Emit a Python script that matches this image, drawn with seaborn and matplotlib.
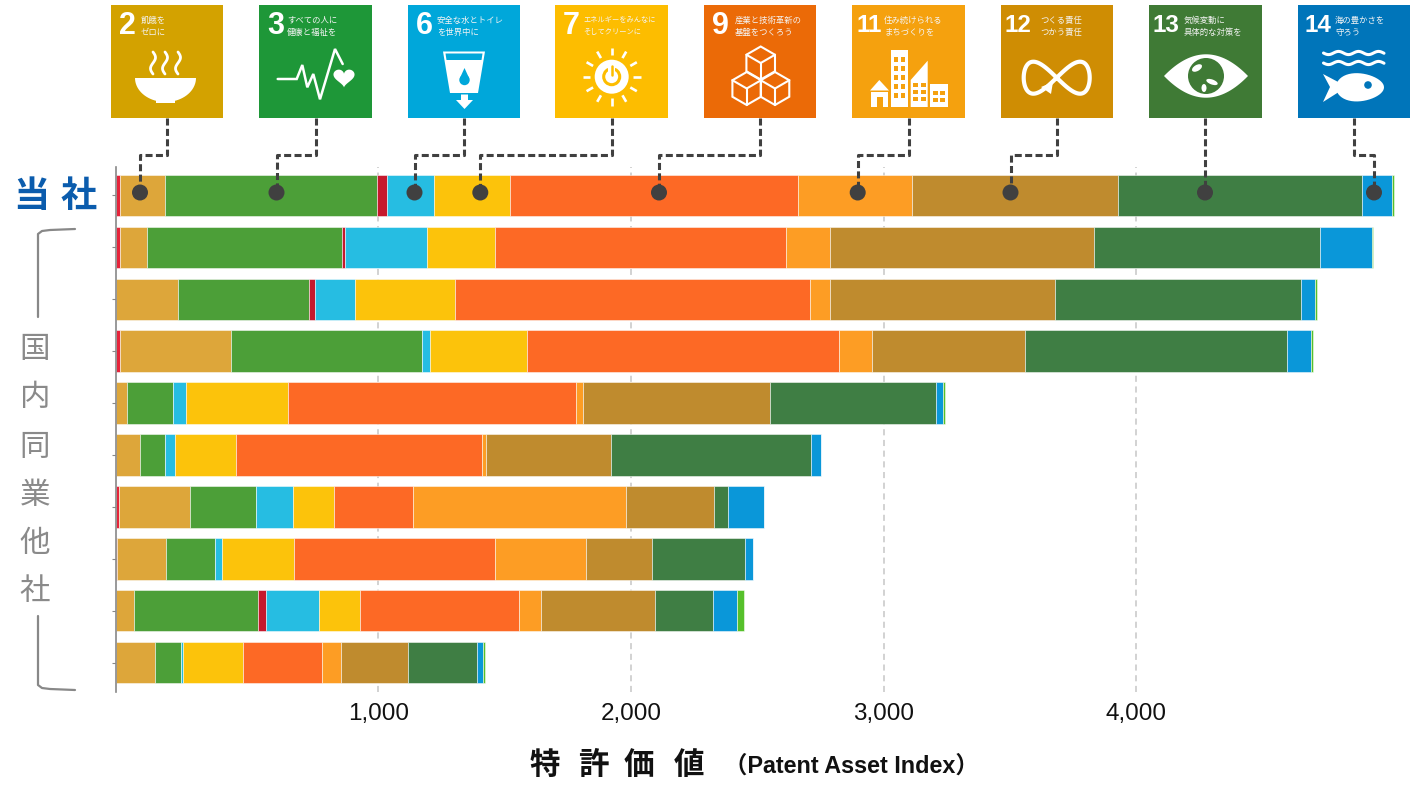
import numpy as np
import pandas as pd
import matplotlib
matplotlib.use('Agg')
import matplotlib.pyplot as plt
from matplotlib.patches import Polygon, Circle, Rectangle, Ellipse
import seaborn as sns

sns.set_theme(style='white')
plt.rcParams['font.family'] = ['Liberation Sans', 'Noto Sans CJK JP', 'DejaVu Sans']

companies = ['当社', 'A社', 'B社', 'C社', 'D社', 'E社', 'F社', 'G社', 'H社', 'I社']
goals = ['SDG1', 'SDG2', 'SDG3', 'SDG4', 'SDG6', 'SDG7', 'SDG9', 'SDG11', 'SDG12', 'SDG13', 'SDG14', 'SDG15']
goal_colors = ['#E5243B', '#DDA63A', '#4C9F38', '#C5192D', '#26BDE2', '#FCC30B',
               '#FD6925', '#FD9D24', '#BF8B2E', '#3F7E44', '#0A97D9', '#56C02B']

# patent asset index per goal, company by company
sdg1 = [16, 16, 0, 16, 0, 0, 13, 5, 0, 0]
sdg2 = [179, 106, 245, 438, 42, 94, 279, 193, 71, 156]
sdg3 = [839, 772, 520, 756, 184, 99, 261, 193, 491, 101]
sdg4 = [40, 14, 24, 0, 0, 0, 0, 0, 30, 0]
sdg6 = [186, 324, 157, 34, 50, 41, 148, 30, 211, 9]
sdg7 = [298, 269, 397, 383, 405, 240, 162, 285, 162, 236]
sdg9 = [1141, 1149, 1405, 1235, 1141, 973, 313, 793, 628, 315]
sdg11 = [452, 174, 79, 129, 26, 17, 842, 361, 89, 73]
sdg12 = [813, 1046, 888, 608, 740, 493, 347, 261, 453, 265]
sdg13 = [968, 895, 975, 1036, 658, 792, 58, 367, 227, 274]
sdg14 = [116, 206, 55, 95, 28, 40, 140, 34, 95, 24]
sdg15 = [8, 4, 8, 8, 5, 3, 0, 0, 28, 6]
all_goals = [sdg1, sdg2, sdg3, sdg4, sdg6, sdg7, sdg9, sdg11, sdg12, sdg13, sdg14, sdg15]

x_ticks = [1000, 2000, 3000, 4000]
x_labels = ['1,000', '2,000', '3,000', '4,000']
# in the original the bars start at the axis edge, a little left of where 0 would be
bar_origin = -38

fig = plt.figure(figsize=(14.15, 7.86), dpi=100, facecolor='white')
ax = fig.add_axes([116 / 1415, 1 - 692 / 786, 1294 / 1415, 525 / 786])

df = pd.DataFrame(all_goals, index=goals, columns=companies).T
lefts = bar_origin + df.cumsum(axis=1).shift(1, axis=1).fillna(0)
for goal, col in zip(goals, goal_colors):
    sns.barplot(y=companies, x=df[goal].values, order=companies, orient='h', color=col,
                left=lefts[goal].values, width=0.8, saturation=1, errorbar=None,
                edgecolor=(1, 1, 1, 0.5), linewidth=0.7, ax=ax, zorder=3)

ax.set_xlim(-38, 5083)
ax.set_ylim(9.566, -0.549)
ax.set_xticks(x_ticks, x_labels, fontsize=17.5, color='#111111')
ax.set_xlabel('')
ax.set_ylabel('')
ax.tick_params(axis='x', length=0, pad=8)
ax.tick_params(axis='y', left=True, length=3, width=0.8, color='#888888', labelleft=False, pad=0)
ax.xaxis.grid(True, color='#c6c6c6', linestyle=(0, (4, 3)), linewidth=1.1, zorder=0)
ax.yaxis.grid(False)
sns.despine(ax=ax, top=True, right=True, bottom=True)
ax.spines['left'].set_color('#888888')
ax.spines['left'].set_linewidth(1.2)
ax.spines['left'].set_zorder(5)

# everything around the bars is placed in pixel coordinates of the picture
ov = fig.add_axes([0, 0, 1, 1], zorder=10)
ov.set_xlim(0, 1415)
ov.set_ylim(786, 0)
ov.axis('off')
ov.patch.set_alpha(0)

# axis title
cjk = ['Noto Sans CJK JP', 'DejaVu Sans']
for x, ch in zip([545, 593, 639, 689.5], '特許価値'):
    ov.text(x, 765, ch, fontsize=22, fontweight='bold', family=cjk, color='#111111', ha='center', va='center')
ov.text(724, 766, '（Patent Asset Index）', fontsize=16.8, fontweight='bold',
        family=['Liberation Sans', 'Noto Sans CJK JP'], color='#111111', ha='left', va='center')

# company labels
for x, ch in zip([31, 79], '当社'):
    ov.text(x, 196, ch, fontsize=26, fontweight='bold', family=cjk, color='#0B5CAD', ha='center', va='center')
for y, ch in zip([350, 398, 447, 495, 543, 591], '国内同業他社'):
    ov.text(35, y, ch, fontsize=22, family=cjk, color='#8a8a8a', ha='center', va='center')
ov.plot([75, 50, 42, 38, 38], [229, 230, 231, 234, 317], color='#888888', lw=1.6)
ov.plot([38, 38, 42, 50, 75], [616, 685, 688, 689, 690], color='#888888', lw=1.6)

# SDG tiles
tile_left = [111, 259, 408, 555, 704, 852, 1001, 1149, 1298]
tile_right = [223, 372, 520, 668, 816, 965, 1113, 1262, 1410]
tile_colors = ['#D3A200', '#1E9738', '#00A7DA', '#FDBD00', '#EB6A07', '#F5A10E', '#CF8D03', '#3F7A35', '#0075BA']
tile_numbers = ['2', '3', '6', '7', '9', '11', '12', '13', '14']
tile_line1 = ['飢餓を', 'すべての人に', '安全な水とトイレ', 'エネルギーをみんなに', '産業と技術革新の',
              '住み続けられる', 'つくる責任', '気候変動に', '海の豊かさを']
tile_line2 = ['ゼロに', '健康と福祉を', 'を世界中に', 'そしてクリーンに', '基盤をつくろう',
              'まちづくりを', 'つかう責任', '具体的な対策を', '守ろう']
number_x = [119, 267, 416, 563, 712, 856, 1005, 1153, 1304]
caption_x = [141, 287, 437, 583, 735, 884, 1040, 1184, 1335]

stem_x = [166.7, 315.5, 463.5, 611.7, 760, 908.5, 1057, 1205, 1353.7]
dot_x = [140, 276.5, 414.5, 480.3, 659, 857.7, 1010.5, 1205, 1374]

for i in range(9):
    ov.add_patch(Rectangle((tile_left[i], 5), tile_right[i] - tile_left[i], 113, color=tile_colors[i], lw=0))
    ov.text(number_x[i], 26, tile_numbers[i], fontsize=22 if len(tile_numbers[i]) == 1 else 17.5,
            fontweight='bold', color='white', family='Liberation Sans', ha='left', va='center')
    size = 5.2 if len(tile_line1[i]) > 8 else 6
    ov.text(caption_x[i], 20, tile_line1[i], fontsize=size, color='#f4f4f4', family=cjk, ha='left', va='center')
    ov.text(caption_x[i], 32, tile_line2[i], fontsize=size, color='#f4f4f4', family=cjk, ha='left', va='center')
    # leader from tile down to the dot on the bar
    ov.plot([stem_x[i], stem_x[i], dot_x[i], dot_x[i]], [118, 155, 155, 190], color='#404040', lw=2.2,
            linestyle=(0, (2.3, 1.1)), solid_capstyle='butt', dash_capstyle='butt')
    ov.add_patch(Circle((dot_x[i], 192.5), 8, color='#404040', lw=0, zorder=6))

W = 'white'
# 2: bowl and steam
t = np.linspace(0, np.pi, 40)
ov.add_patch(Polygon(np.c_[165.5 + 30.5 * np.cos(t), 78 + 24 * np.sin(t)], color=W, lw=0))
ov.add_patch(Rectangle((156, 98), 19, 5, color=W, lw=0))
for x0 in [153, 165, 178]:
    yy = np.linspace(52, 74, 20)
    ov.plot(x0 + 2.5 * np.sin((yy - 52) / 22 * 2 * np.pi), yy, color=W, lw=2, solid_capstyle='round')

# 3: pulse and heart
ov.plot([277.7, 296.7, 302.3, 307.3, 313.3, 320, 335, 342.7], [79, 79, 65, 87.3, 74, 99.3, 49, 64],
        color=W, lw=1.8, solid_joinstyle='miter')
t = np.linspace(0, 2 * np.pi, 60)
ov.add_patch(Polygon(np.c_[344 + 0.66 * 16 * np.sin(t) ** 3,
                           77 - 0.62 * (13 * np.cos(t) - 5 * np.cos(2 * t) - 2 * np.cos(3 * t) - np.cos(4 * t))],
                     color=W, lw=0))

# 6: glass with drop and arrow
c6 = tile_colors[2]
ov.add_patch(Polygon([(443, 51.5), (485, 51.5), (478, 93), (450, 93)], color=W, lw=0))
ov.add_patch(Polygon([(445.5, 53.5), (482.5, 53.5), (481.5, 60), (446.5, 60)], color=c6, lw=0))
ov.add_patch(Circle((464.5, 80), 5.2, color=c6, lw=0))
ov.add_patch(Polygon([(459.7, 78.5), (469.3, 78.5), (464.5, 68)], color=c6, lw=0))
ov.add_patch(Rectangle((461, 93), 7, 9, color=W, lw=0))
ov.add_patch(Polygon([(456, 100), (473, 100), (464.5, 109)], color=W, lw=0))
ov.add_patch(Polygon([(450, 93), (478, 93), (477, 94.5), (451, 94.5)], color=c6, lw=0))

# 7: sun with power sign
cx7, cy7 = 611.7, 76.7
c7 = tile_colors[3]
for a in np.arange(0, 360, 30):
    r = np.radians(a)
    ov.plot([cx7 + 21.5 * np.cos(r), cx7 + 29 * np.cos(r)], [cy7 + 21.5 * np.sin(r), cy7 + 29 * np.sin(r)],
            color=W, lw=1.9, solid_capstyle='butt')
ov.add_patch(Circle((cx7, cy7), 17, color=W, lw=0))
ov.add_patch(Circle((cx7, cy7), 8, facecolor='none', edgecolor=c7, lw=2.2))
ov.add_patch(Rectangle((cx7 - 3.5, cy7 - 12), 7, 9, color=W, lw=0))
ov.plot([cx7, cx7], [cy7 - 11, cy7 - 2], color=c7, lw=1.8)

# 9: three cubes
ang = np.radians(np.arange(30, 390, 60))
for cx, cy in [(760.7, 63), (746.7, 88.5), (775, 88.5)]:
    hexa = np.c_[cx + 16.5 * np.cos(ang), cy + 16.5 * np.sin(ang)]
    ov.add_patch(Polygon(hexa, facecolor='none', edgecolor=W, lw=1.5))
    # inner Y of the cube
    for k in [1, 3, 5]:
        ov.plot([cx, hexa[k][0]], [cy, hexa[k][1]], color=W, lw=1.5)

# 11: buildings
c11 = tile_colors[5]
ov.add_patch(Rectangle((891, 50), 17.3, 57, color=W, lw=0))
for wx in [894, 901]:
    for wy in [57, 66, 75, 84, 93]:
        ov.add_patch(Rectangle((wx, wy), 4, 5, color=c11, lw=0))
ov.add_patch(Polygon([(910.7, 107), (910.7, 80), (927.7, 60.7), (927.7, 107)], color=W, lw=0))
for wx in [913, 921]:
    for wy in [83, 90, 97]:
        ov.add_patch(Rectangle((wx, wy), 5, 4, color=c11, lw=0))
ov.add_patch(Rectangle((930, 84), 17.7, 23, color=W, lw=0))
for wx in [932.5, 940]:
    for wy in [91, 98]:
        ov.add_patch(Rectangle((wx, wy), 5, 4, color=c11, lw=0))
ov.add_patch(Rectangle((870.7, 91.7), 17.6, 15.3, color=W, lw=0))
ov.add_patch(Polygon([(870, 90.5), (889, 90.5), (879.3, 80)], color=W, lw=0))
ov.add_patch(Rectangle((876.5, 97), 6, 10, color=c11, lw=0))

# 12: infinity loop
t = np.linspace(0, 2 * np.pi, 120)
ov.plot(1056.7 + 33 * np.sin(t), 77.7 + 16 * np.sin(2 * t), color=W, lw=3)
ov.add_patch(Polygon([(1041, 87), (1053, 82), (1051, 94)], color=W, lw=0))

# 13: eye and globe
t = np.linspace(-1, 1, 40)
ov.add_patch(Polygon(np.r_[np.c_[1206 + 42 * t, 76 - 21.7 * (1 - t ** 2)], np.c_[1206 - 42 * t, 76 + 21.7 * (1 - t ** 2)]],
                     color=W, lw=0))
ov.add_patch(Circle((1206, 76), 18, color=tile_colors[7], lw=0))
ov.add_patch(Ellipse((1197, 68), 11, 6, angle=-30, color=W, lw=0))
ov.add_patch(Ellipse((1212, 82), 12, 5, angle=20, color=W, lw=0))
ov.add_patch(Ellipse((1204, 88), 5, 8, color=W, lw=0))

# 14: waves and fish
xx = np.linspace(1323.5, 1384, 60)
for y0 in [53, 63]:
    ov.plot(xx, y0 + 1.6 * np.sin((xx - 1323.5) / 20 * 2 * np.pi), color=W, lw=2.2)
t = np.linspace(0, 2 * np.pi, 50)
ov.add_patch(Polygon(np.c_[1360 + 24 * np.cos(t), 87.3 + 14 * np.sin(t) * (1 - 0.15 * np.cos(t))], color=W, lw=0))
ov.add_patch(Polygon([(1323, 74), (1330, 87), (1323, 102), (1342, 90), (1342, 84)], color=W, lw=0))
ov.add_patch(Circle((1368, 85), 3.8, color=tile_colors[8], lw=0))

fig.savefig('out.png', dpi=100)
